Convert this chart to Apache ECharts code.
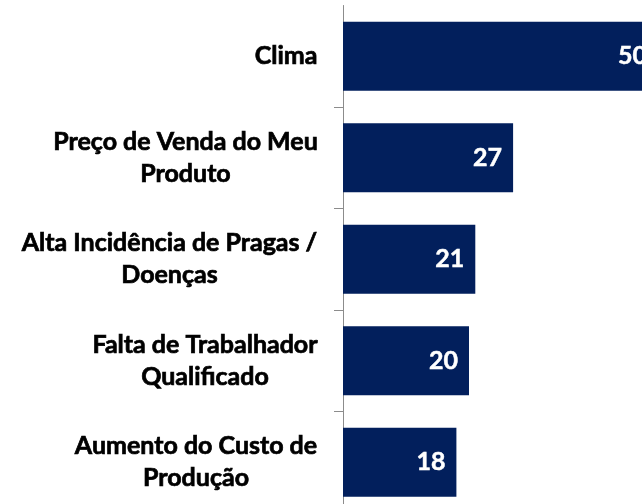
<!DOCTYPE html>
<html>
<head>
<meta charset="utf-8">
<script src="https://cdn.jsdelivr.net/npm/echarts@6/dist/echarts.min.js"></script>
<style>
  html, body { margin: 0; padding: 0; background: #fff; }
  #chart { width: 642px; height: 504px; }
  #measure { position: absolute; visibility: hidden; white-space: pre; font: bold 25px Lato; }
</style>
</head>
<body>
<div id="chart"></div>
<span id="measure"></span>
<script>
const categories = [
  'Clima',
  'Preço de Venda do Meu\nProduto',
  'Alta Incidência de Pragas /\nDoenças',
  'Falta de Trabalhador\nQualificado',
  'Aumento do Custo de\nProdução'
]
const values = [50, 27, 21, 20, 18]

// largura de cada rótulo, para centrar as linhas dentro do bloco
const measure = document.getElementById('measure')
function textWidth(s) {
  measure.textContent = s
  return measure.getBoundingClientRect().width
}
const rich = {}
categories.forEach(function (c, i) {
  const w = Math.max.apply(null, c.split('\n').map(textWidth))
  rich['c' + i] = {
    width: Math.ceil(w) + 1,
    align: 'center',
    fontFamily: 'Lato',
    fontWeight: 'bold',
    fontSize: 25,
    lineHeight: 32,
    color: '#000',
    textBorderColor: '#000',
    textBorderWidth: 0.7
  }
})

const charts = echarts.init(document.getElementById('chart'))
charts.setOption({
  animation: false,
  grid: { left: 343, right: -16, top: 5.5, bottom: -9, outerBoundsMode: 'none' },
  xAxis: {
    type: 'value',
    min: 0,
    max: 50,
    show: false
  },
  yAxis: {
    type: 'category',
    inverse: true,
    data: categories,
    axisLine: { lineStyle: { color: '#8c8c8c', width: 1 } },
    axisTick: {
      show: true,
      length: 9,
      interval: function (i) { return i > 0 },
      lineStyle: { color: '#8c8c8c' }
    },
    axisLabel: {
      margin: 25,
      align: 'right',
      rich: rich,
      formatter: function (v) {
        const i = categories.indexOf(v)
        return v.split('\n').map(function (s) { return '{c' + i + '|' + s + '}' }).join('\n')
      }
    }
  },
  series: [{
    type: 'bar',
    data: values,
    barCategoryGap: '32%',
    itemStyle: { color: '#021f5c' },
    label: {
      show: true,
      position: 'insideRight',
      distance: 11,
      color: '#fff',
      fontFamily: 'Lato',
      fontWeight: 'bold',
      fontSize: 25,
      textBorderColor: '#fff',
      textBorderWidth: 0.5
    }
  }]
})
</script>
</body>
</html>
